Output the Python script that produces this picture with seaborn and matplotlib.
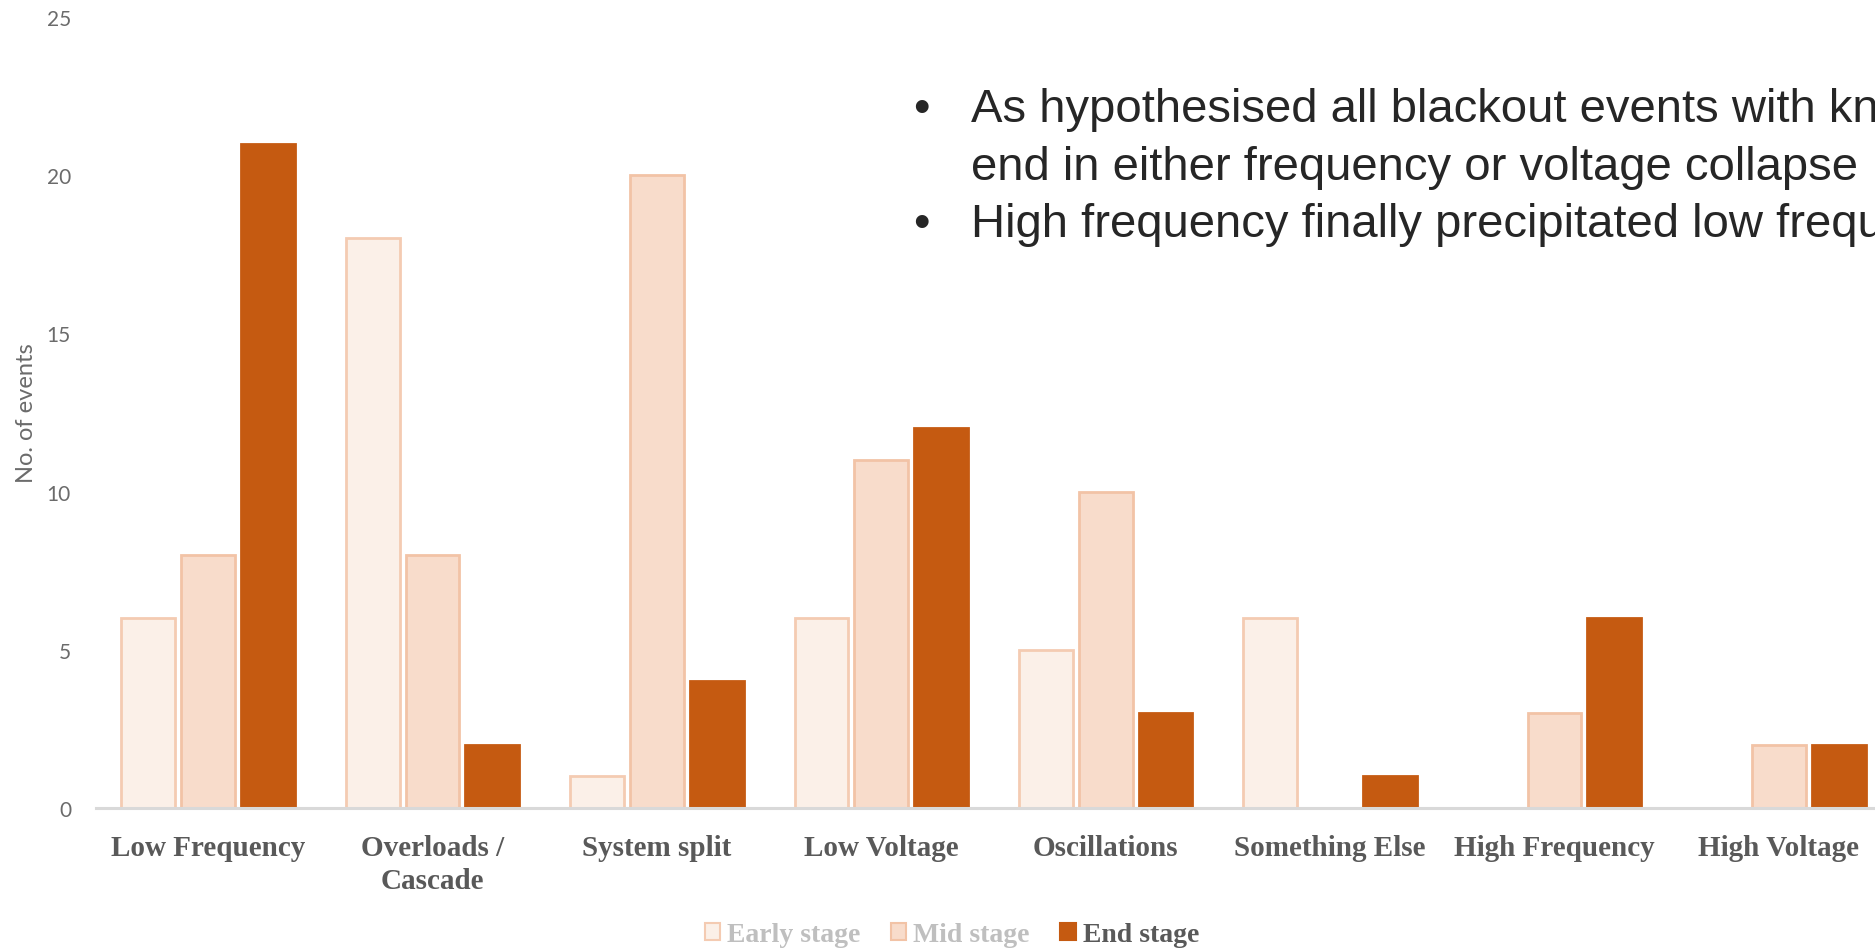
import matplotlib
matplotlib.use("Agg")
import matplotlib.pyplot as plt
import seaborn as sns
import pandas as pd
from matplotlib.patches import Patch

# Blackout event mechanisms by stage
categories = ["Low Frequency", "Overloads /\nCascade", "System split", "Low Voltage",
              "Oscillations", "Something Else", "High Frequency", "High Voltage"]
stages = ["Early stage", "Mid stage", "End stage"]
early_stage = [6, 18, 1, 6, 5, 6, 0, 0]
mid_stage = [8, 8, 20, 11, 10, 0, 3, 2]
end_stage = [21, 2, 4, 12, 3, 1, 6, 2]
y_ticks = [0, 5, 10, 15, 20, 25]

fills = ["#FBF0E8", "#F8DCCB", "#C55A11"]
edges = ["#F4CBB2", "#F2C3A6", "#C55A11"]

df = pd.DataFrame({
    "category": categories * 3,
    "stage": [s for s in stages for _ in categories],
    "events": early_stage + mid_stage + end_stage,
})

sns.set_theme(style="white")
plt.rcParams["font.family"] = ["Liberation Sans", "DejaVu Sans"]

fig = plt.figure(figsize=(18.75, 9.53), dpi=100)
ax = fig.add_axes([96 / 1875, 1 - 809 / 953, 1795 / 1875, 791 / 953])

sns.barplot(data=df, x="category", y="events", hue="stage", order=categories,
            hue_order=stages, palette=fills, saturation=1, width=0.8, gap=0.1,
            legend=False, ax=ax)

# outline colours per stage (zero-height bars stay invisible)
for container, ec in zip(ax.containers, edges):
    for bar in container:
        if bar.get_height() > 0:
            bar.set_edgecolor(ec)
            bar.set_linewidth(2.0)
        else:
            bar.set_visible(False)

ax.set_ylim(0, 25)
ax.set_xlim(-0.5, 7.5)
ax.set_yticks(y_ticks)
ax.set_yticklabels([str(t) for t in y_ticks], fontfamily="Lato", fontsize=15, color="#6B6B6B")
ax.tick_params(axis="y", length=0, pad=18)
ax.tick_params(axis="x", length=0, pad=19)
for lbl in ax.get_xticklabels():
    lbl.set_fontfamily("Liberation Serif")
    lbl.set_fontweight("bold")
    lbl.set_fontsize(21)
    lbl.set_color("#595959")
    lbl.set_linespacing(1.25)
ax.set_xlabel("")
ax.set_ylabel("No. of events", fontfamily="Lato", fontsize=17, color="#6B6B6B")
ax.yaxis.set_label_coords(-0.033, 0.50)

for side in ["top", "right", "left"]:
    ax.spines[side].set_visible(False)
ax.spines["bottom"].set_color("#D9D9D9")
ax.spines["bottom"].set_linewidth(2.2)
ax.grid(False)

# legend
handles = [Patch(facecolor=f, edgecolor=e, linewidth=1.5) for f, e in zip(fills, edges)]
leg = fig.legend(handles, stages, loc="center", bbox_to_anchor=(952 / 1875, 1 - 936 / 953),
                 ncol=3, frameon=False, handlelength=0.55, handleheight=0.55,
                 handletextpad=0.25, columnspacing=1.1,
                 prop={"family": "Liberation Serif", "weight": "bold", "size": 20})
for txt, c in zip(leg.get_texts(), ["#BFBFBF", "#BFBFBF", "#595959"]):
    txt.set_color(c)

# annotation bullets
bullet_lines = [
    ("\u2022", "As hypothesised all blackout events with known causes"),
    ("", "end in either frequency or voltage collapse"),
    ("\u2022", "High frequency finally precipitated low frequency collapse"),
]
y0 = 110
for i, (b, line) in enumerate(bullet_lines):
    y = 1 - (y0 + i * 57.5) / 953
    if b:
        fig.text(913 / 1875, y, b, fontsize=34, color="#262626", va="center", ha="left")
    fig.text(971 / 1875, y, line, fontsize=34, color="#262626", va="center", ha="left")

fig.savefig("out.png", dpi=100)
